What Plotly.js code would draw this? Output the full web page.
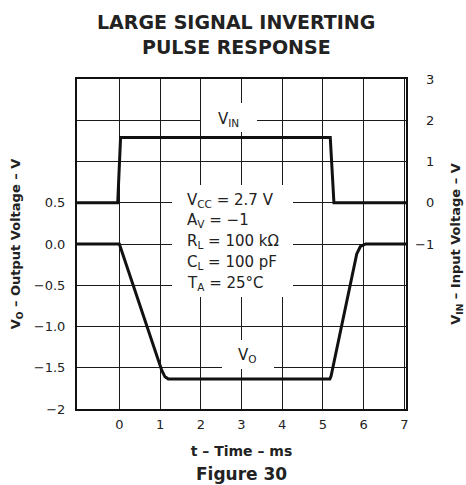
<!DOCTYPE html>
<html>
<head>
<meta charset="utf-8">
<script src="https://cdn.plot.ly/plotly-3.0.1.min.js"></script>
<style>html,body{margin:0;padding:0;background:#fff;} #chart{width:466px;height:485px;}</style>
</head>
<body>
<div id="chart"></div>
<script>
// ---- data ----
const timeTicks = [0, 1, 2, 3, 4, 5, 6, 7];
const timeTickLabels = ['0', '1', '2', '3', '4', '5', '6', '7'];

const voTickVals = [-2, -1.5, -1, -0.5, 0, 0.5, 1, 1.5, 2];
const voTickLabels = ['\u22122', '\u22121.5', '\u22121.0', '\u22120.5', '0.0', '0.5', '', '', ''];

const vinTickVals = [-1, 0, 1, 2, 3];
const vinTickLabels = ['\u22121', '0', '1', '2', '3'];

// Input pulse (right axis, V)
const tVin = [-1.04, -0.04, 0.03, 5.18, 5.27, 7.04];
const vVin = [0, 0, 1.58, 1.58, 0, 0];

// Output (left axis, V)
const tVo = [-1.04, 0, 1.04, 1.12, 1.2, 5.17, 5.2, 5.83, 5.92, 6.05, 7.04];
const vVo = [0, 0, -1.53, -1.61, -1.635, -1.635, -1.6, -0.12, -0.03, 0, 0];

const titleLines = ['LARGE SIGNAL INVERTING', 'PULSE RESPONSE'];

const conditions = [
  'V<sub>CC</sub> = 2.7 V',
  'A<sub>V</sub> = \u22121',
  'R<sub>L</sub> = 100 k\u03A9',
  'C<sub>L</sub> = 100 pF',
  'T<sub>A</sub> = 25\u00B0C'
];

// ---- layout helpers ----
const FONT = 'DejaVu Sans';
const TXT = '#222';
const W = 466, H = 485, L = 77, R = 60, T = 79, B = 76;
const xr = [-1.04, 7.04], yr = [-2, 2];
const pw = W - L - R, ph = H - T - B;
const px2x = p => xr[0] + (p - L) / pw * (xr[1] - xr[0]);
const py2y = p => yr[1] - (p - T) / ph * (yr[1] - yr[0]);
const px2paper = p => (p - L) / pw;
const py2paper = p => (T + ph - p) / ph;

const pad = s => (s.startsWith('\u2212') ? s : '<span style="color:rgba(0,0,0,0)">\u2212</span>' + s);

const traces = [
  {x: tVo, y: vVo, type: 'scatter', mode: 'lines', line: {color: '#111', width: 3}, yaxis: 'y', hoverinfo: 'skip'},
  {x: tVin, y: vVin, type: 'scatter', mode: 'lines', line: {color: '#111', width: 3}, yaxis: 'y2', hoverinfo: 'skip'}
];

const whiteBox = (x0p, x1p, y0p, y1p) => ({
  type: 'rect', xref: 'x', yref: 'y', layer: 'between',
  x0: px2x(x0p), x1: px2x(x1p), y0: py2y(y0p), y1: py2y(y1p),
  fillcolor: '#fff', line: {width: 0}
});

const annotations = [];
const titleY = [22, 47];
titleLines.forEach((t, i) => annotations.push({
  xref: 'paper', yref: 'paper', x: px2paper(236), y: py2paper(titleY[i]), xanchor: 'center', yanchor: 'middle',
  text: t, showarrow: false, font: {family: FONT, size: 19, color: TXT, weight: 'bold'}
}));
const condY = [198, 218.5, 239.5, 260, 281];
conditions.forEach((c, i) => annotations.push({
  xref: 'x', yref: 'y', x: px2x(185), y: py2y(condY[i] + 2), xanchor: 'left', yanchor: 'middle',
  text: c, showarrow: false, font: {family: FONT, size: 15, color: TXT}
}));
annotations.push({xref: 'x', yref: 'y', x: px2x(228.5), y: py2y(119), xanchor: 'center', yanchor: 'middle',
  text: 'V<sub>IN</sub>', showarrow: false, font: {family: FONT, size: 15, color: TXT}});
annotations.push({xref: 'x', yref: 'y', x: px2x(247.5), y: py2y(355), xanchor: 'center', yanchor: 'middle',
  text: 'V<sub>O</sub>', showarrow: false, font: {family: FONT, size: 15, color: TXT}});
annotations.push({xref: 'paper', yref: 'paper', x: px2paper(241), y: py2paper(474), xanchor: 'center', yanchor: 'middle',
  text: 'Figure 30', showarrow: false, font: {family: FONT, size: 17, color: TXT, weight: 'bold'}});

const layout = {
  width: W, height: H,
  margin: {l: L, r: R, t: T, b: B, pad: 0},
  paper_bgcolor: '#fff', plot_bgcolor: '#fff',
  showlegend: false,
  font: {family: FONT, color: TXT, size: 13},
  xaxis: {
    range: xr, tickmode: 'array', tickvals: timeTicks, ticktext: timeTickLabels,
    showgrid: true, gridcolor: '#1a1a1a', gridwidth: 1, zeroline: false,
    showline: true, linecolor: '#111', linewidth: 2, mirror: true,
    ticks: '', ticklabelstandoff: 2,
    tickfont: {family: FONT, size: 13, color: TXT},
    title: {text: 't \u2013 Time \u2013 ms', standoff: 16, font: {family: FONT, size: 14, color: TXT, weight: 'bold'}}
  },
  yaxis: {
    range: yr, tickmode: 'array', tickvals: voTickVals, ticktext: voTickLabels,
    showgrid: true, gridcolor: '#1a1a1a', gridwidth: 1, zeroline: false,
    showline: true, linecolor: '#111', linewidth: 2, mirror: true,
    ticks: '', ticklabelstandoff: 7,
    tickfont: {family: FONT, size: 13, color: TXT},
    title: {text: 'V<sub>O</sub> \u2013 Output Voltage \u2013 V', standoff: 10, font: {family: FONT, size: 13, color: TXT, weight: 'bold'}}
  },
  yaxis2: {
    range: [-5, 3], overlaying: 'y', side: 'right', tickmode: 'array', tickvals: vinTickVals,
    ticktext: vinTickLabels.map(pad),
    showgrid: false, zeroline: false, showline: false,
    ticks: '', ticklabelstandoff: 8,
    tickfont: {family: FONT, size: 13, color: TXT},
    title: {text: 'V<sub>IN</sub> \u2013 Input Voltage \u2013 V', standoff: 17, font: {family: FONT, size: 13, color: TXT, weight: 'bold'}}
  },
  shapes: [
    whiteBox(172, 293, 185, 297),
    whiteBox(201, 257, 103, 132),
    whiteBox(222, 274, 340, 369)
  ],
  annotations: annotations
};

Plotly.newPlot('chart', traces, layout, {staticPlot: true, displayModeBar: false});
</script>
</body>
</html>
